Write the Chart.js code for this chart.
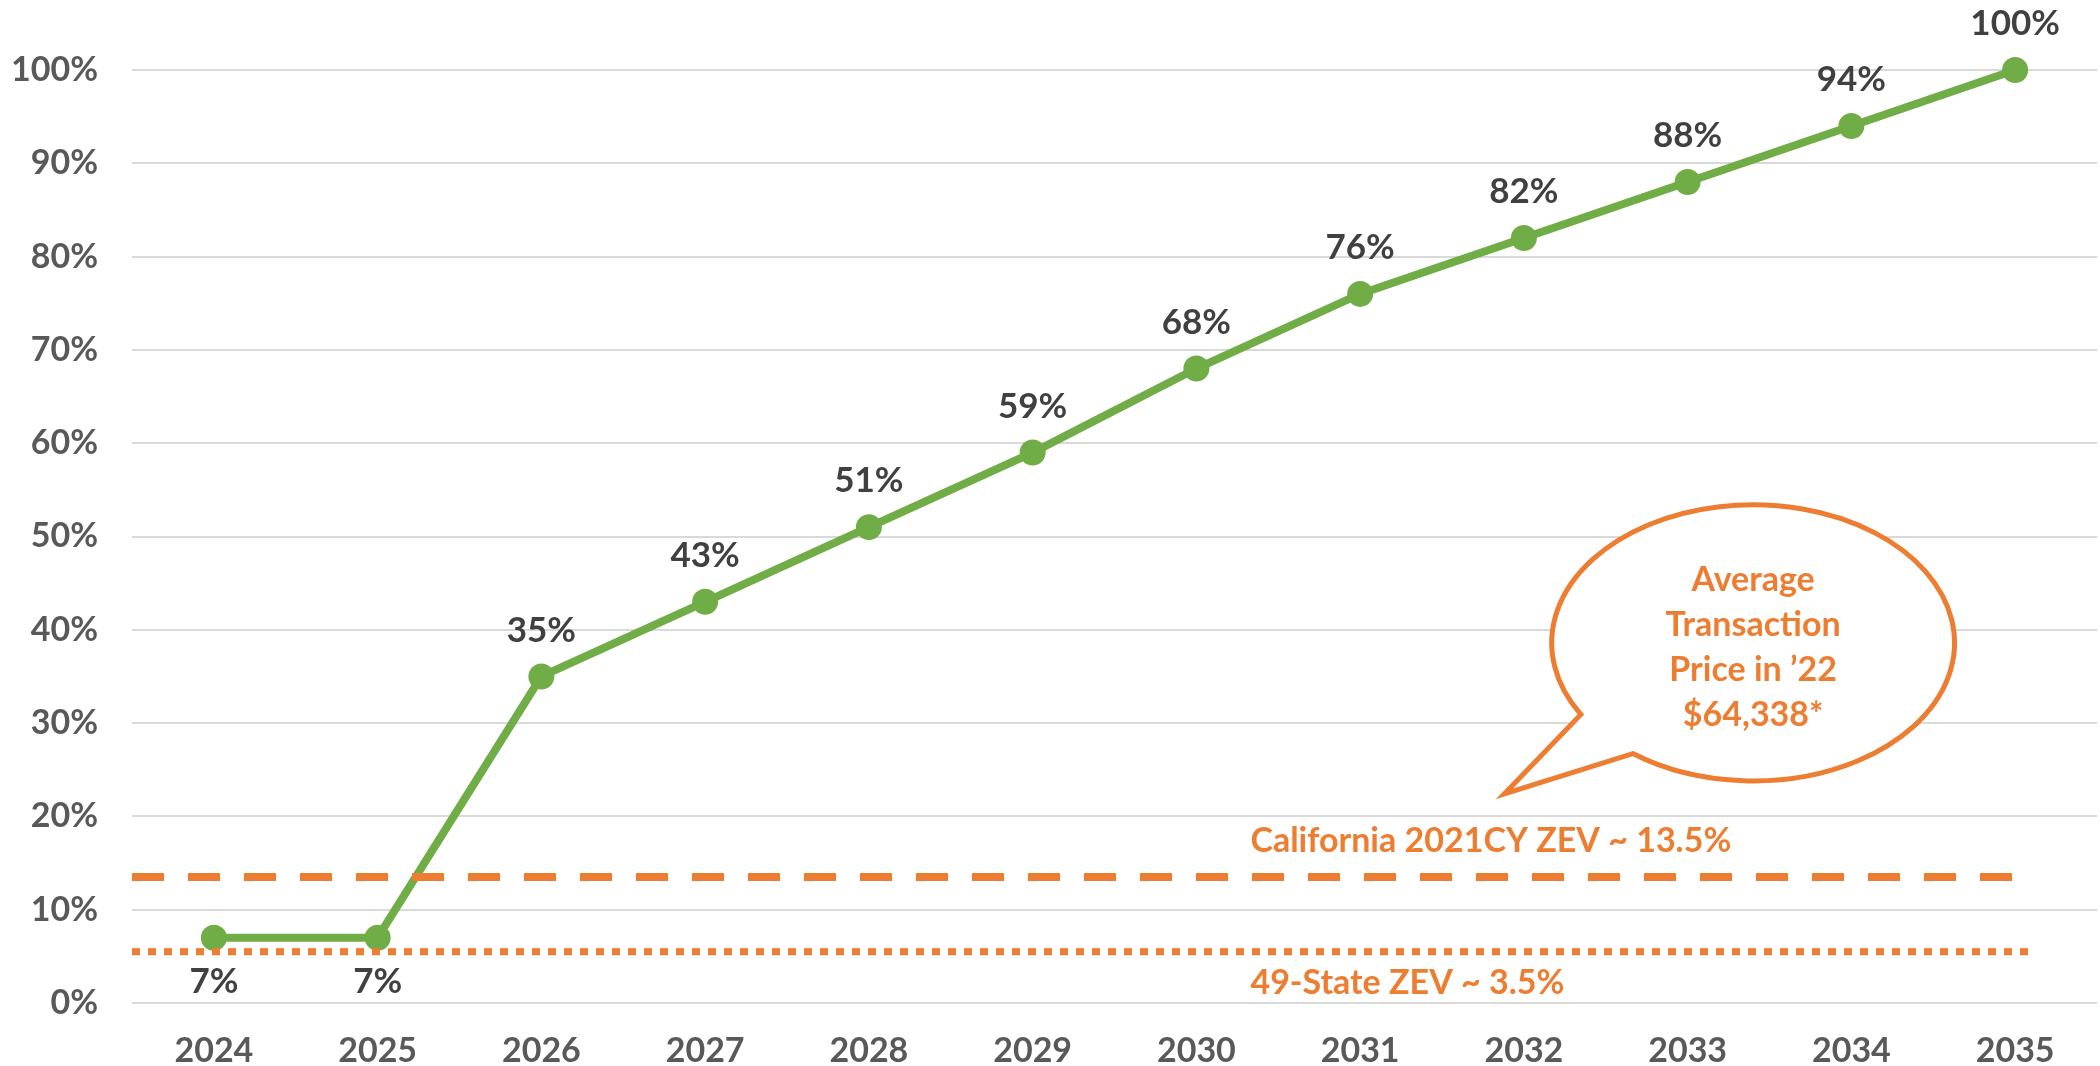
<!DOCTYPE html>
<html>
<head>
<meta charset="utf-8">
<script src="https://cdn.jsdelivr.net/npm/chart.js@4.4.1/dist/chart.umd.min.js"></script>
<style>
  html, body { margin: 0; padding: 0; background: #fff; }
  #wrap { width: 2100px; height: 1066px; }
</style>
</head>
<body>
<div id="wrap"><canvas id="zevChart" width="2100" height="1066"></canvas></div>
<script>
// --- data ---
const years = ["2024", "2025", "2026", "2027", "2028", "2029", "2030", "2031", "2032", "2033", "2034", "2035"];
const zevShare = [7, 7, 35, 43, 51, 59, 68, 76, 82, 88, 94, 100];
const refValues = [13.5, 5.5];
const refLabels = ["California 2021CY ZEV ~ 13.5%", "49-State ZEV ~ 3.5%"];
const calloutLines = ["Average", "Transaction", "Price in \u201922", "$64,338*"];

const ORANGE = "#ED7D31";
const GREEN = "#70AD47";
const FONT = "Lato, 'Open Sans', sans-serif";

// labels, reference lines and the speech bubble
const overlay = {
  id: "overlay",
  afterDatasetsDraw(chart) {
    const ctx = chart.ctx;
    const x = chart.scales.x, y = chart.scales.y;
    const area = chart.chartArea;
    ctx.save();

    // dashed California line
    ctx.strokeStyle = ORANGE;
    ctx.lineWidth = 8;
    ctx.setLineDash([32, 24]);
    let yy = y.getPixelForValue(refValues[0]);
    ctx.beginPath();
    ctx.moveTo(area.left, yy);
    ctx.lineTo(x.getPixelForValue(11) + 3, yy);
    ctx.stroke();

    // dotted 49-state line
    ctx.lineWidth = 7;
    ctx.setLineDash([8, 8]);
    let yy2 = y.getPixelForValue(refValues[1]);
    ctx.beginPath();
    ctx.moveTo(area.left, yy2);
    ctx.lineTo(x.getPixelForValue(11) + 16, yy2);
    ctx.stroke();
    ctx.setLineDash([]);

    ctx.fillStyle = ORANGE;
    ctx.font = "bold 34px " + FONT;
    ctx.textAlign = "left";
    ctx.textBaseline = "middle";
    const lx = x.getPixelForValue(6.33);
    ctx.fillText(refLabels[0], lx, yy - 36);
    ctx.fillText(refLabels[1], lx, yy2 + 31);

    // value labels
    const meta = chart.getDatasetMeta(0);
    ctx.fillStyle = "#404040";
    ctx.font = "bold 35px " + FONT;
    ctx.textAlign = "center";
    meta.data.forEach((pt, i) => {
      const below = zevShare[i] < 10;
      ctx.fillText(zevShare[i] + "%", pt.x, below ? pt.y + 44 : pt.y - 46);
    });

    // speech bubble
    const cx = x.getPixelForValue(9.4), cy = y.getPixelForValue(38.6);
    const rx = x.getPixelForValue(9.4 + 1.23) - cx;
    const ry = cy - y.getPixelForValue(38.6 + 14.8);
    const a1 = 148.8 * Math.PI / 180, a2 = 126.7 * Math.PI / 180;
    const tipX = x.getPixelForValue(7.88), tipY = y.getPixelForValue(22.4);
    ctx.beginPath();
    ctx.moveTo(tipX, tipY);
    ctx.lineTo(cx + rx * Math.cos(a1), cy + ry * Math.sin(a1));
    ctx.ellipse(cx, cy, rx, ry, 0, a1, a2 + Math.PI * 2, false);
    ctx.lineTo(tipX, tipY);
    ctx.closePath();
    ctx.fillStyle = "#fff";
    ctx.fill();
    ctx.strokeStyle = ORANGE;
    ctx.lineWidth = 5;
    ctx.lineJoin = "miter";
    ctx.stroke();

    ctx.fillStyle = ORANGE;
    ctx.font = "bold 34px " + FONT;
    calloutLines.forEach((t, i) => {
      ctx.fillText(t, cx, cy - 63 + i * 45);
    });

    ctx.restore();
  }
};

new Chart(document.getElementById("zevChart").getContext("2d"), {
  type: "line",
  data: {
    labels: years,
    datasets: [{
      data: zevShare,
      borderColor: GREEN,
      backgroundColor: GREEN,
      borderWidth: 8,
      pointRadius: 13,
      pointBackgroundColor: GREEN,
      pointBorderWidth: 0,
      tension: 0,
      clip: false
    }]
  },
  options: {
    responsive: false,
    animation: false,
    layout: { autoPadding: false, padding: { top: 70, right: 3, left: 0, bottom: 0 } },
    plugins: { legend: { display: false }, tooltip: { enabled: false } },
    scales: {
      x: {
        offset: true,
        grid: { display: false },
        border: { display: false },
        ticks: { color: "#595959", font: { family: FONT, size: 34, weight: "bold" }, padding: 20, maxRotation: 0 },
        afterFit: s => { s.height = 63; s.paddingLeft = 0; s.paddingRight = 0; }
      },
      y: {
        min: 0, max: 100,
        grid: { color: "#d9d9d9", lineWidth: 2, drawTicks: false },
        border: { display: false },
        ticks: {
          stepSize: 10,
          color: "#595959",
          font: { family: FONT, size: 34, weight: "bold" },
          padding: 34,
          callback: v => v + "%"
        },
        afterFit: s => { s.width = 132; }
      }
    }
  },
  plugins: [overlay]
});
</script>
</body>
</html>
